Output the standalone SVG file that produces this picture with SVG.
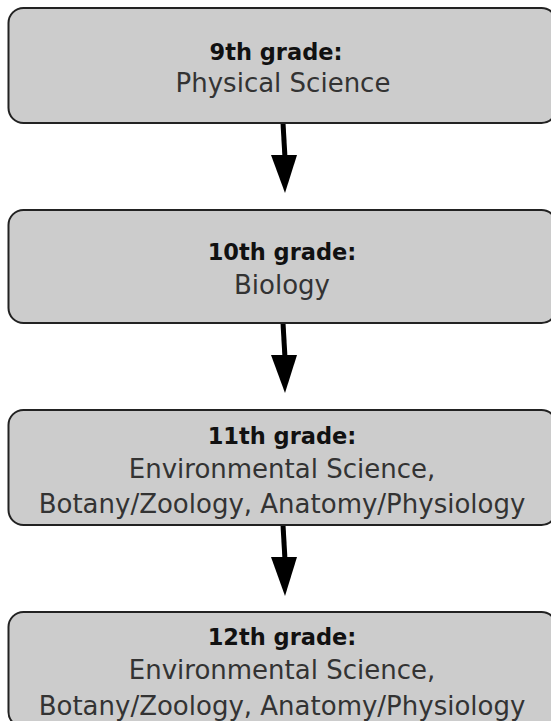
<svg xmlns="http://www.w3.org/2000/svg" width="551" height="721" viewBox="0 0 551 721">
<style>
.box{fill:#cccccc;stroke:#222;stroke-width:2}
.t{font-family:"DejaVu Sans","Liberation Sans",sans-serif;font-weight:bold;font-size:22.5px;fill:#111;text-anchor:middle}
.s{font-family:"DejaVu Sans","Liberation Sans",sans-serif;font-size:26px;fill:#333;text-anchor:middle}
.ln{stroke:#000;stroke-width:5;fill:none}
.hd{fill:#000}
</style>
<rect width="551" height="721" fill="#fff"/>
<g id="connectors">
<line class="ln" x1="283" y1="123" x2="285" y2="158"/><polygon class="hd" points="271,155 297,155 285,193"/>
<line class="ln" x1="283" y1="323" x2="285" y2="358"/><polygon class="hd" points="271,355 297,355 285,393"/>
<line class="ln" x1="283" y1="525" x2="285" y2="560"/><polygon class="hd" points="271,557 297,557 285,596"/>
</g>
<g id="n9">
<rect class="box" x="8.5" y="8" width="548" height="115" rx="15"/>
<text class="t" x="276" y="60">9th grade:</text>
<text class="s" x="283" y="92">Physical Science</text>
</g>
<g id="n10">
<rect class="box" x="8.5" y="210" width="548" height="113" rx="15"/>
<text class="t" x="282" y="260">10th grade:</text>
<text class="s" x="282" y="294">Biology</text>
</g>
<g id="n11">
<rect class="box" x="8.5" y="410" width="548" height="115" rx="15"/>
<text class="t" x="282" y="444">11th grade:</text>
<text class="s" x="282" y="478">Environmental Science,</text>
<text class="s" x="282" y="513">Botany/Zoology, Anatomy/Physiology</text>
</g>
<g id="n12">
<rect class="box" x="8.5" y="612" width="548" height="115" rx="15"/>
<text class="t" x="282" y="645">12th grade:</text>
<text class="s" x="282" y="679">Environmental Science,</text>
<text class="s" x="282" y="715">Botany/Zoology, Anatomy/Physiology</text>
</g>
</svg>
